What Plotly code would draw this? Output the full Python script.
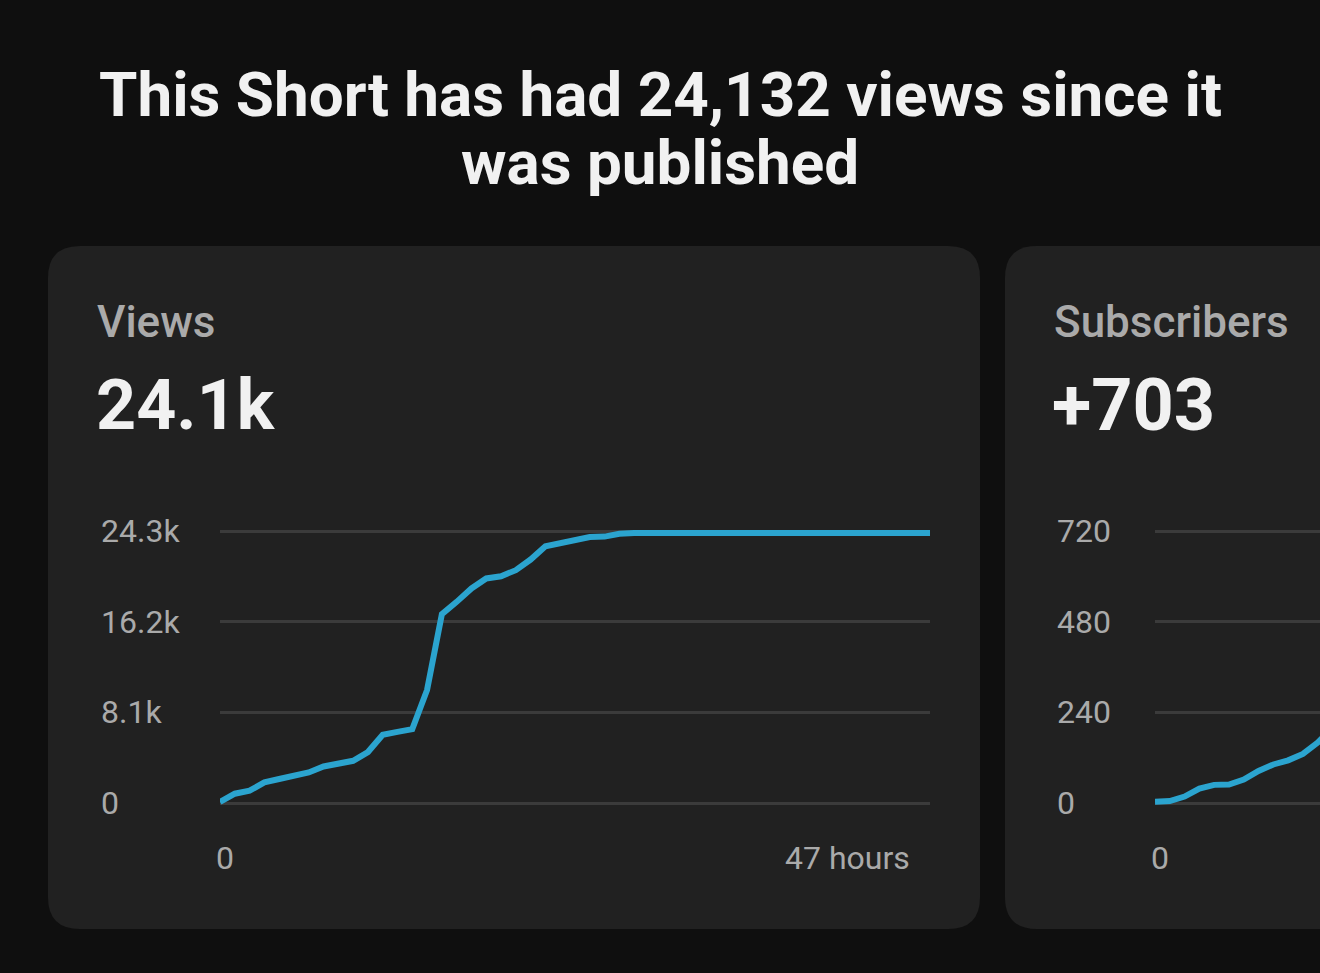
import plotly.graph_objects as go

W, H = 1320, 973

# Views over time (hourly since publish)
hours = list(range(49))
views = [90, 830, 1100, 1840, 2140, 2440, 2730, 3260, 3510, 3770, 4550, 6090, 6350, 6600,
         10100, 16870, 17970, 19170, 20060, 20260, 20800, 21750, 22940, 23230, 23470, 23760,
         23800, 24060, 24132, 24132, 24132, 24132, 24132, 24132, 24132, 24132, 24132, 24132,
         24132, 24132, 24132, 24132, 24132, 24132, 24132, 24132, 24132, 24132, 24132]
views_ticks = [0, 8100, 16200, 24300]
views_ticktext = ["0", "8.1k", "16.2k", "24.3k"]

# Subscribers (only the first hours are visible in the card)
sub_hours = list(range(13))
subs = [3, 5, 17, 38, 48, 49, 62, 85, 102, 113, 130, 160, 200]
subs_ticks = [0, 240, 480, 720]
subs_ticktext = ["0", "240", "480", "720"]

BG = "#0f0f0f"
CARD = "#212121"
GRID = "#3b3b3b"
LINE = "#2ba4cf"
GREY = "#aaaaaa"
WHITE = "#f1f1f1"
FONT = "Roboto"


def px_x(x):
    return x / W


def px_y(y):
    return 1 - y / H


def rounded_rect(x0, y0, x1, y1, r):
    # path in paper coords from pixel box
    rx, ry = r / W, r / H
    a, b, c, d = px_x(x0), px_y(y0), px_x(x1), px_y(y1)
    return (f"M {a + rx},{b} L {c - rx},{b} Q {c},{b} {c},{b - ry} "
            f"L {c},{d + ry} Q {c},{d} {c - rx},{d} L {a + rx},{d} "
            f"Q {a},{d} {a},{d + ry} L {a},{b - ry} Q {a},{b} {a + rx},{b} Z")


fig = go.Figure()
fig.add_trace(go.Scatter(x=hours, y=views, mode="lines", xaxis="x", yaxis="y",
                         line=dict(color=LINE, width=6), hoverinfo="skip"))
fig.add_trace(go.Scatter(x=sub_hours, y=subs, mode="lines", xaxis="x2", yaxis="y2",
                         line=dict(color=LINE, width=6), hoverinfo="skip"))

step = 710 / 48
# pad the y ranges a little so the end gridlines are drawn
pad_px = 4
vpad = pad_px * 24300 / 272
spad = pad_px * 720 / 272
ydom = [px_y(803 + pad_px), px_y(531 - pad_px)]

fig.update_layout(
    width=W, height=H,
    margin=dict(l=0, r=0, t=0, b=0),
    paper_bgcolor=BG, plot_bgcolor="rgba(0,0,0,0)",
    showlegend=False,
    xaxis=dict(domain=[px_x(220), px_x(930)], range=[0, 48], visible=False),
    yaxis=dict(domain=ydom, range=[-vpad, 24300 + vpad], tickvals=views_ticks,
               showticklabels=False, showgrid=True, gridcolor=GRID, gridwidth=3, zeroline=False),
    xaxis2=dict(domain=[px_x(1155), 1], range=[0, (1320 - 1155) / step], visible=False,
                anchor="y2"),
    yaxis2=dict(domain=ydom, range=[-spad, 720 + spad], tickvals=subs_ticks,
                showticklabels=False, showgrid=True, gridcolor=GRID, gridwidth=3,
                zeroline=False, anchor="x2"),
    shapes=[
        dict(type="path", path=rounded_rect(48, 246, 980, 929, 32), xref="paper", yref="paper",
             fillcolor=CARD, line=dict(width=0), layer="below"),
        dict(type="path", path=rounded_rect(1005, 246, 1360, 929, 32), xref="paper", yref="paper",
             fillcolor=CARD, line=dict(width=0), layer="below"),
    ],
)

ann = []


def text(x, y, s, size, color, weight="normal", xanchor="left"):
    ann.append(dict(x=px_x(x), y=px_y(y), xref="paper", yref="paper", text=s, showarrow=False,
                    xanchor=xanchor, yanchor="middle",
                    font=dict(family=FONT, size=size, color=color, weight=weight)))


text(660, 94, "This Short has had 24,132 views since it", 62, WHITE, "bold", "center")
text(660, 162, "was published", 62, WHITE, "bold", "center")

text(95, 322, "Views", 44, GREY, 500)
text(94, 405, "24.1k", 70, WHITE, "bold")
text(1052, 322, "Subscribers", 44, GREY, 500)
text(1050, 405, "+703", 72, WHITE, "bold")

for v, t in zip(views_ticks, views_ticktext):
    yy = 803 - v / 24300 * 272
    text(99, yy, t, 32, GREY)
for v, t in zip(subs_ticks, subs_ticktext):
    yy = 803 - v / 720 * 272
    text(1055, yy, t, 32, GREY)

text(225, 858, "0", 32, GREY, xanchor="center")
text(912, 858, "47 hours", 32, GREY, xanchor="right")
text(1160, 858, "0", 32, GREY, xanchor="center")

fig.update_layout(annotations=ann)

fig.write_html("out.html", config={"displayModeBar": False},
               post_script="document.body.style.margin='0px';")
